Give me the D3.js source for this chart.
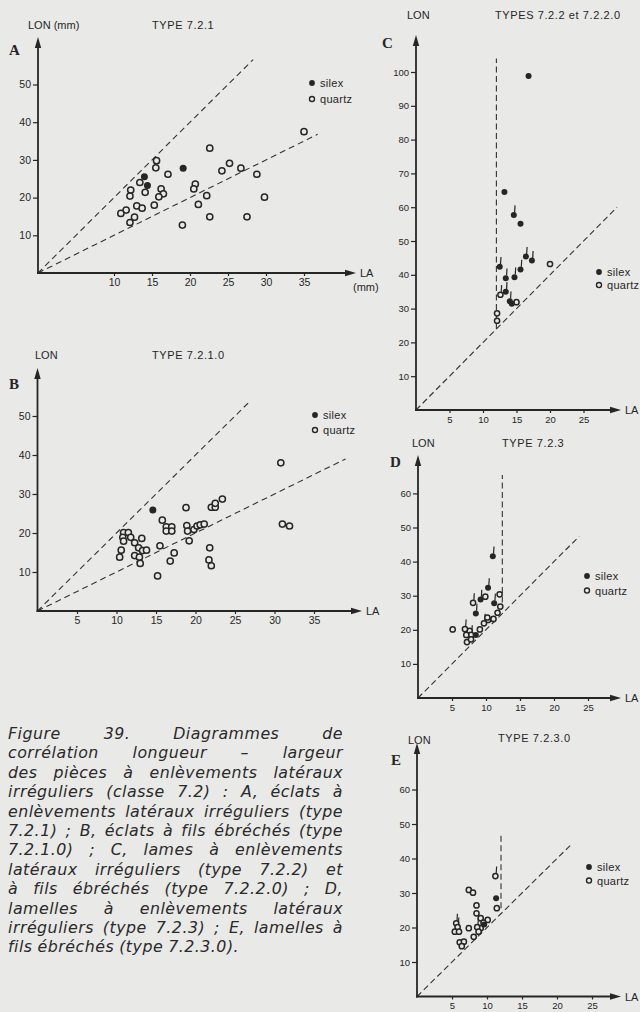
<!DOCTYPE html>
<html>
<head>
<meta charset="utf-8">
<script src="https://cdn.jsdelivr.net/npm/d3@7"></script>
<style>
body { margin: 0; background: #e9e9e7; }
svg text { font-family: "Liberation Sans", Arial, sans-serif; fill: #262626; }
.caption text { font-family: "DejaVu Sans", "Open Sans", sans-serif; font-style: italic; font-size: 15.8px; fill: #2a2a2a; }
</style>
</head>
<body>
<svg id="fig" width="640" height="1012"></svg>
<script>
// values: [LA, LON, stroke above the mark (1) or not (0)]
var aSilex = [[19.1,27.8,0],[14.0,25.5,0],[14.4,23.2,0]];
var aQuartz = [[35.0,37.5,0],[22.6,33.1,0],[15.6,29.8,0],[15.5,27.9,0],[17.1,26.2,0],[13.4,24.0,0],[12.2,22.0,0],
  [12.1,20.4,0],[14.1,21.4,0],[16.2,22.3,0],[16.5,21.0,0],[15.9,20.2,0],[15.3,18.0,0],[13.0,17.8,0],[13.7,17.2,0],
  [11.6,16.7,0],[10.9,15.8,0],[12.7,14.8,0],[12.1,13.4,0],[19.0,12.7,0],[20.7,23.6,0],[20.5,22.3,0],[22.2,20.5,0],
  [21.1,18.2,0],[22.6,14.9,0],[24.2,27.1,0],[25.2,29.1,0],[26.7,27.8,0],[28.8,26.2,0],[29.8,20.1,0],[27.5,14.9,0]];
var aGuides = [[[0,0],[28.3,56.6]],[[0,0],[36.8,36.8]]];

var bSilex = [[14.6,25.9,0]];
var bQuartz = [[30.8,38.0,0],[31.0,22.3,0],[31.9,21.8,0],[18.8,26.5,0],[22.0,26.6,0],[22.5,26.6,0],[22.5,27.6,0],
  [23.4,28.7,0],[15.8,23.3,0],[16.3,21.6,0],[16.3,20.5,0],[17.0,21.6,0],[17.0,20.5,0],[18.9,21.9,0],[19.0,20.5,0],
  [19.2,18.0,0],[19.8,20.9,0],[20.2,21.8,0],[20.6,22.1,0],[21.1,22.3,0],[21.8,16.2,0],[21.7,13.1,0],[22.0,11.6,0],
  [10.9,20.1,0],[11.5,20.1,0],[10.8,18.9,0],[10.9,17.9,0],[11.8,18.9,0],[12.3,17.5,0],[13.2,18.6,0],[12.8,16.2,0],
  [13.3,15.5,0],[13.8,15.6,0],[10.6,15.6,0],[10.4,13.8,0],[12.3,14.2,0],[12.9,13.8,0],[13.0,12.2,0],[15.5,16.7,0],
  [16.8,12.8,0],[17.3,14.9,0],[15.2,9.0,0]];
var bGuides = [[[0,0],[26.9,53.8]],[[0,0],[39,39]]];

var cSilex = [[16.8,98.8,0],[13.2,64.5,0],[14.6,57.7,1],[15.6,55.1,0],[16.4,45.4,1],[17.3,44.2,1],[12.5,42.4,1],
  [13.4,39.0,1],[14.7,39.3,1],[15.6,41.6,1],[13.4,35.0,1],[14.0,32.2,1],[14.3,31.4,0]];
var cQuartz = [[12.6,34.1,1],[15.0,31.9,0],[20.0,43.2,0],[12.1,28.6,0],[12.1,26.4,0]];
var cGuides = [[[0,0],[30,60]],[[12,24],[12,104]]];

var dSilex = [[11.0,41.6,1],[10.3,32.3,1],[9.2,28.9,1],[8.5,24.8,1],[11.2,27.8,1],[8.5,18.5,0]];
var dQuartz = [[9.9,29.7,0],[8.1,27.9,1],[12.0,30.4,0],[12.1,26.8,0],[11.7,25.0,0],[11.1,23.2,0],[10.3,22.9,0],
  [9.7,21.9,1],[10.2,23.6,0],[9.1,20.1,0],[7.6,19.7,0],[7.8,18.5,1],[7.1,18.5,0],[6.9,20.2,1],[7.2,16.4,0],
  [7.8,17.2,0],[5.1,20.1,0]];
var dGuides = [[[0,0],[23.7,47.4]],[[12.4,28],[12.4,65.4]]];

var eSilex = [[11.3,28.5,0],[9.6,20.9,0]];
var eQuartz = [[11.2,34.9,1],[11.4,25.6,0],[7.4,30.9,0],[8.0,30.1,0],[8.5,26.4,0],[8.5,24.1,0],[9.1,22.7,0],
  [10.1,22.2,0],[9.5,21.4,0],[9.1,19.8,0],[8.6,20.1,1],[8.8,18.8,0],[8.1,17.3,0],[7.4,19.8,0],[5.6,21.2,1],
  [5.8,20.1,1],[5.4,18.8,0],[6.0,18.8,0],[6.1,15.7,0],[6.7,15.9,0],[6.4,14.6,0]];
var eGuides = [[[0,0],[21.9,43.8]],[[12,25.6],[12,46.8]]];

var xTicksA = [10,15,20,25,30,35];
var xTicksB = [5,10,15,20,25,30,35];
var xTicksCDE = [5,10,15,20,25];
var yTicks50 = [10,20,30,40,50];
var yTicks100 = [10,20,30,40,50,60,70,80,90,100];
var yTicks60 = [10,20,30,40,50,60];

var titles = ["TYPE 7.2.1","TYPE 7.2.1.0","TYPES 7.2.2 et 7.2.2.0","TYPE 7.2.3","TYPE 7.2.3.0"];
var legendLabels = ["silex","quartz"];

var captionLines = [
  "Figure 39. Diagrammes de",
  "corrélation longueur – largeur",
  "des pièces à enlèvements latéraux",
  "irréguliers (classe 7.2) : A, éclats à",
  "enlèvements latéraux irréguliers (type",
  "7.2.1) ; B, éclats à fils ébréchés (type",
  "7.2.1.0) ; C, lames à enlèvements",
  "latéraux irréguliers (type 7.2.2) et",
  "à fils ébréchés (type 7.2.2.0) ; D,",
  "lamelles à enlèvements latéraux",
  "irréguliers (type 7.2.3) ; E, lamelles à",
  "fils ébréchés (type 7.2.3.0)."
];

var ink = "#262626";
var paper = "#e9e9e7";

// layout of each diagram on the page
var panels = [
  {letter:"A", title:titles[0], yName:"LON (mm)", unit:"(mm)", silex:aSilex, quartz:aQuartz, guides:aGuides,
   xTicks:xTicksA, yTicks:yTicks50, ox:38, oy:273, kx:7.6, ky:3.77, xEnd:356, yEnd:37,
   letterPos:[9,55], titlePos:[152,29], yNamePos:[28,29], legend:[312,83,16], r:3.1, fs:10.5, dash:"6,4"},
  {letter:"B", title:titles[1], yName:"LON", silex:bSilex, quartz:bQuartz, guides:bGuides,
   xTicks:xTicksB, yTicks:yTicks50, ox:37.5, oy:611, kx:7.9, ky:3.9, xEnd:362, yEnd:368,
   letterPos:[9,389], titlePos:[152,359], yNamePos:[35,359], legend:[315,415,15], r:3.1, fs:10.5, dash:"6,4"},
  {letter:"C", title:titles[2], yName:"LON", silex:cSilex, quartz:cQuartz, guides:cGuides,
   xTicks:xTicksCDE, yTicks:yTicks100, ox:416, oy:410, kx:6.7, ky:3.38, xEnd:621, yEnd:35,
   letterPos:[382,48], titlePos:[495,19], yNamePos:[407,19], legend:[599,272,13], r:2.6, fs:9.5, dash:"6,3.5"},
  {letter:"D", title:titles[3], yName:"LON", silex:dSilex, quartz:dQuartz, guides:dGuides,
   xTicks:xTicksCDE, yTicks:yTicks60, ox:418, oy:698, kx:6.8, ky:3.41, xEnd:621, yEnd:455,
   letterPos:[390,467], titlePos:[502,447], yNamePos:[412,447], legend:[587,576,14.5], r:2.6, fs:9.5, dash:"6,3.5"},
  {letter:"E", title:titles[4], yName:"LON", silex:eSilex, quartz:eQuartz, guides:eGuides,
   xTicks:xTicksCDE, yTicks:yTicks60, ox:417, oy:996.5, kx:7.0, ky:3.45, xEnd:621, yEnd:743,
   letterPos:[391,765], titlePos:[498,742], yNamePos:[408,744], legend:[589,867,13.5], r:2.6, fs:9.5, dash:"6,3.5"}
];

var svg = d3.select("#fig");
svg.append("rect").attr("width",640).attr("height",1012).attr("fill",paper);

function drawPanel(p){
  var g = svg.append("g");
  var x = d3.scaleLinear().domain([0,(p.xEnd-p.ox)/p.kx]).range([p.ox,p.xEnd]);
  var y = d3.scaleLinear().domain([0,(p.oy-p.yEnd)/p.ky]).range([p.oy,p.yEnd]);

  // dashed reference lines
  var line = d3.line().x(function(d){return x(d[0]);}).y(function(d){return y(d[1]);});
  g.selectAll("path.guide").data(p.guides).enter().append("path")
    .attr("class","guide").attr("d",line)
    .attr("fill","none").attr("stroke","#333").attr("stroke-width",1.1)
    .attr("stroke-dasharray",p.dash);

  // axes
  var ya = g.append("g").attr("transform","translate("+p.ox+",0)")
    .call(d3.axisLeft(y).tickValues(p.yTicks).tickSize(5).tickPadding(2));
  var xa = g.append("g").attr("transform","translate(0,"+p.oy+")")
    .call(d3.axisBottom(x).tickValues(p.xTicks).tickSize(3).tickPadding(3));
  [ya,xa].forEach(function(a){
    a.select(".domain").remove();
    a.selectAll("line").attr("stroke",ink).attr("stroke-width",1.2);
    a.selectAll("text").attr("font-family","Liberation Sans, Arial, sans-serif")
      .attr("font-size",p.fs).attr("fill","#2a2a2a");
  });

  var x0 = x(0), y0 = y(0), xm = x.range()[1], ym = y.range()[1];
  g.append("path").attr("d","M"+(x0-1)+","+y0+"H"+(xm-8))
    .attr("stroke",ink).attr("stroke-width",1.8);
  g.append("path").attr("d","M"+x0+","+(y0+1)+"V"+(ym+8))
    .attr("stroke",ink).attr("stroke-width",1.8);
  g.append("path").attr("d","M"+xm+","+y0+"L"+(xm-11)+","+(y0-3.2)+"L"+(xm-11)+","+(y0+3.2)+"Z").attr("fill",ink);
  g.append("path").attr("d","M"+x0+","+ym+"L"+(x0-3.2)+","+(ym+11)+"L"+(x0+3.2)+","+(ym+11)+"Z").attr("fill",ink);

  // axis names and titles
  g.append("text").attr("x",xm+4).attr("y",y0+4).attr("font-size",11).text("LA");
  if(p.unit) g.append("text").attr("x",xm-3).attr("y",y0+18).attr("font-size",11).text(p.unit);
  g.append("text").attr("x",p.yNamePos[0]).attr("y",p.yNamePos[1]).attr("font-size",11).text(p.yName);
  g.append("text").attr("x",p.titlePos[0]).attr("y",p.titlePos[1]).attr("font-size",11)
    .attr("letter-spacing",0.6).text(p.title);
  g.append("text").attr("x",p.letterPos[0]).attr("y",p.letterPos[1])
    .attr("font-size",15).attr("font-weight","bold")
    .style("font-family","Liberation Serif, DejaVu Serif, serif").text(p.letter);

  // flag strokes above some marks
  var flagged = p.silex.concat(p.quartz).filter(function(d){return d[2]===1;});
  g.selectAll("line.flag").data(flagged).enter().append("line").attr("class","flag")
    .attr("x1",function(d){return x(d[0])+0.8;}).attr("x2",function(d){return x(d[0])+1.2;})
    .attr("y1",function(d){return y(d[1])-p.r;}).attr("y2",function(d){return y(d[1])-p.r-7;})
    .attr("stroke",ink).attr("stroke-width",1.2);

  // marks
  g.selectAll("circle.q").data(p.quartz).enter().append("circle").attr("class","q")
    .attr("cx",function(d){return x(d[0]);}).attr("cy",function(d){return y(d[1]);})
    .attr("r",p.r).attr("fill",paper).attr("stroke",ink).attr("stroke-width",1.5);
  g.selectAll("circle.s").data(p.silex).enter().append("circle").attr("class","s")
    .attr("cx",function(d){return x(d[0]);}).attr("cy",function(d){return y(d[1]);})
    .attr("r",p.r+0.4).attr("fill",ink);

  // legend
  var lg = g.append("g").attr("transform","translate("+p.legend[0]+","+p.legend[1]+")");
  lg.selectAll("g").data(legendLabels).enter().append("g")
    .attr("transform",function(d,i){return "translate(0,"+(i*p.legend[2])+")";})
    .each(function(d,i){
      var e = d3.select(this);
      e.append("circle").attr("r",i===0?2.9:2.5)
        .attr("fill",i===0?ink:paper).attr("stroke",ink).attr("stroke-width",i===0?0:1.4);
      e.append("text").attr("x",8).attr("y",4).attr("font-size",11).attr("letter-spacing",0.3).text(d);
    });
}

panels.forEach(drawPanel);

// justified caption: words spread over the column, letter spacing eased on tight lines
var capLeft = 8, capRight = 343, capTop = 739, capStep = 19.4;
var cap = svg.append("g").attr("class","caption");
captionLines.forEach(function(line,i){
  var words = line.split(" ");
  var yy = capTop + i*capStep;
  var last = i === captionLines.length-1;
  var ts = words.map(function(w){ return cap.append("text").attr("y",yy).text(w); });
  var ls = 0.5, widths, gap;
  for(var k=0; k<10; k++){
    ts.forEach(function(t){ t.attr("letter-spacing",ls); });
    widths = ts.map(function(t){ return t.node().getComputedTextLength(); });
    gap = last ? 5 : (capRight-capLeft-d3.sum(widths))/(words.length-1);
    if(gap >= 3.5) break;
    ls -= 0.2;
  }
  var xx = capLeft;
  ts.forEach(function(t,j){ t.attr("x",xx); xx += widths[j]+gap; });
});
</script>
</body>
</html>
